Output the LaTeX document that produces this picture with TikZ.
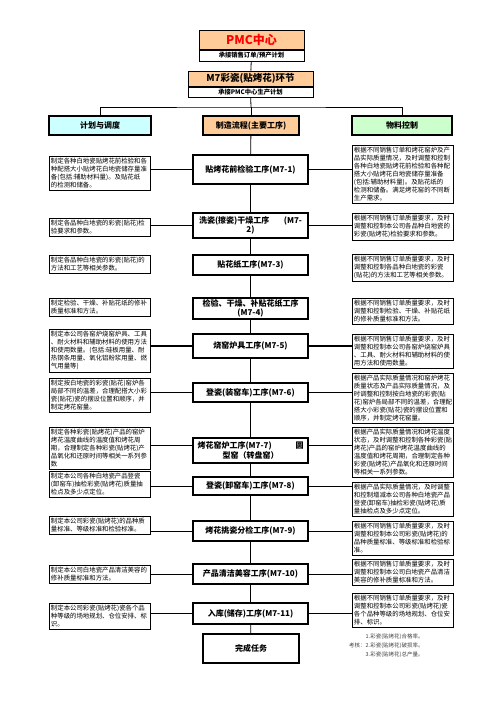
\documentclass[tikz,border=0pt]{standalone}
\usepackage{fontspec}
\setmainfont{Noto Sans CJK SC}
\usetikzlibrary{positioning}
\definecolor{pmcorange}{HTML}{FFCC99}
\definecolor{plancyan}{HTML}{CCFFFF}
\definecolor{matgreen}{HTML}{CCFFCC}
\newcommand{\notefont}{\fontsize{6.4}{8}\selectfont}
\newcommand{\procfont}{\fontsize{8}{9.5}\selectfont\bfseries}

\begin{document}
\begin{tikzpicture}[x=1pt, y=-1pt,
  notebox/.style={draw, line width=0.9pt, anchor=north west, text width=98pt,
    inner xsep=1.5pt, inner ysep=2pt, align=left, font=\notefont},
  procbox/.style={draw, line width=1.1pt, minimum width=115pt, inner ysep=1pt,
    align=center, font=\procfont},
  headbox/.style={draw, line width=1.4pt, minimum height=19pt, font=\procfont},
  topbox/.style={draw, line width=1pt, inner sep=1pt, fill=pmcorange},
  subbox/.style={draw, line width=1pt, inner sep=0.5pt, font=\fontsize{6.3}{7}\selectfont\bfseries},
  link/.style={line width=0.8pt},
  biglink/.style={line width=1.6pt}]
\useasboundingbox (0,0) rectangle (496,702);

% top of the chart
\node(pmc)	[topbox, minimum width=105pt, minimum height=19pt,
  font=\fontsize{12}{13}\selectfont\bfseries, text=red] at (251.5,39.5) {PMC中心};
\node(pmcsub)	[subbox, minimum width=105pt, minimum height=11pt, below=0pt of pmc]
{承接销售订单/预产计划};
\node(m7)	[topbox, minimum width=125pt, minimum height=15pt,
  font=\fontsize{9.5}{10}\selectfont\bfseries] at (250.5,78.5) {M7彩瓷(贴烤花)环节};
\node(m7sub)	[subbox, minimum width=125pt, minimum height=10pt, below=0pt of m7]
{承接PMC中心生产计划};
\coordinate(bus) at (251,107);

% column heads
\node(h1)	[headbox, minimum width=102pt, fill=plancyan] at (100,125.5) {计划与调度};
\node(h2)	[headbox, minimum width=96pt, fill=pmcorange] at (251,125.5) {制造流程(主要工序)};
\node(h3)	[headbox, minimum width=100pt, fill=matgreen] at (402,125.5) {物料控制};

% process steps
\node(s1)	[procbox, minimum height=29pt] at (250.5,169.5) {贴烤花前检验工序(M7-1)};
\node(s2)	[procbox, minimum height=25pt] at (250.5,225.5)
{\makebox[103pt][s]{洗瓷(擦瓷)干燥工序\hfill(M7-}\\2)};
\node(s3)	[procbox, minimum height=20pt] at (250.5,265) {贴花纸工序(M7-3)};
\node(s4)	[procbox, minimum height=21pt] at (250.5,308.5) {检验、干燥、补贴花纸工序\\(M7-4)};
\node(s5)	[procbox, minimum height=24pt] at (250.5,346) {烧窑炉具工序(M7-5)};
\node(s6)	[procbox, minimum height=19pt] at (250.5,392.5) {登瓷(装窑车)工序(M7-6)};
\node(s7)	[procbox, minimum height=25pt] at (250.5,450.5)
{\makebox[106pt][s]{烤花窑炉工序(M7-7)\hfill 圆}\\型窑（转盘窑）};
\node(s8)	[procbox, minimum height=18pt] at (250.5,486) {登瓷(卸窑车)工序(M7-8)};
\node(s9)	[procbox, minimum height=20pt] at (250.5,531) {烤花挑瓷分检工序(M7-9)};
\node(s10)	[procbox, minimum height=20pt] at (250.5,574) {产品清洁美容工序(M7-10)};
\node(s11)	[procbox, minimum height=21pt] at (250.5,613.5) {入库(储存)工序(M7-11)};
\node(done)	[procbox, minimum width=96pt, minimum height=29pt] at (251,648.5) {完成任务};

% planning notes
\node(l1)	[notebox] at (49,156) {制定各种白地瓷贴烤花前检验和各\\种配搭大小贴烤花白地瓷储存量准\\备(包括:辅助材料量)。及贴花纸\\的检测和储备。};
\node(l2)	[notebox] at (49,218) {制定各品种白地瓷的彩瓷(贴花)检\\验要求和参数。};
\node(l3)	[notebox] at (49,255) {制定各品种白地瓷的彩瓷(贴花)的\\方法和工艺等相关参数。};
\node(l4)	[notebox] at (49,298) {制定检验、干燥、补贴花纸的修补\\质量标准和方法。};
\node(l5)	[notebox] at (49,329) {制定本公司各窑炉烧窑炉具、工具\\、耐火材料和辅助材料的使用方法\\和使用数量。(包括:硅板用量、耐\\热钢条用量、氧化铝粉浆用量、燃\\气用量等)};
\node(l6)	[notebox] at (49,378) {制定按白地瓷的彩瓷(贴花)窑炉各\\局部不同的温差，合理配搭大小彩\\瓷(贴花)瓷的摆设位置和顺序，并\\制定烤花窑量。};
\node(l7)	[notebox] at (49,427) {制定各种彩瓷(贴烤花)产品的窑炉\\烤花温度曲线的温度值和烤花周\\期，合理制定各种彩瓷(贴烤花)产\\品氧化和还原时间等相关一系列参\\数};
\node(l8)	[notebox] at (49,471) {制定本公司各种白地瓷产品登瓷\\(卸窑车)抽检彩瓷(贴烤花)质量抽\\检点及多少点定位。};
\node(l9)	[notebox] at (49,516) {制定本公司彩瓷(贴烤花)的品种质\\量标准、等级标准和检验标准。};
\node(l10)	[notebox] at (49,565) {制定本公司白地瓷产品清洁美容的\\修补质量标准和方法。};
\node(l11)	[notebox] at (49,603) {制定本公司彩瓷(贴烤花)瓷各个品\\种等级的场地规划、仓位安排、标\\识。};

% material notes
\node(r1)	[notebox] at (352,145) {根据不同销售订单和烤花窑炉及产\\品实际质量情况，及时调整和控制\\各种白地瓷贴烤花前检验和各种配\\搭大小贴烤花白地瓷储存量准备\\(包括:辅助材料量)。及贴花纸的\\检测和储备。满足烤花窑的不同断\\生产需求。};
\node(r2)	[notebox] at (352,213) {根据不同销售订单质量要求，及时\\调整和控制本公司各品种白地瓷的\\彩瓷(贴烤花)检验要求和参数。};
\node(r3)	[notebox] at (352,254) {根据不同销售订单质量要求，及时\\调整和控制各品种白地瓷的彩瓷\\(贴花)的方法和工艺等相关参数。};
\node(r4)	[notebox] at (352,298) {根据不同销售订单质量要求，及时\\调整和控制检验、干燥、补贴花纸\\的修补质量标准和方法。};
\node(r5)	[notebox] at (352,334) {根据不同销售订单质量要求，及时\\调整和控制本公司各窑炉烧窑炉具\\、工具、耐火材料和辅助材料的使\\用方法和使用数量。};
\node(r6)	[notebox] at (352,373) {根据产品实际质量情况和窑炉烤花\\质量状态及产品实际质量情况，及\\时调整和控制按白地瓷的彩瓷(贴\\花)窑炉各局部不同的温差，合理配\\搭大小彩瓷(贴花)瓷的摆设位置和\\顺序，并制定烤花窑量。};
\node(r7)	[notebox] at (352,427) {根据产品实际质量情况和烤花温度\\状态，及时调整和控制各种彩瓷(贴\\烤花)产品的窑炉烤花温度曲线的\\温度值和烤花周期，合理制定各种\\彩瓷(贴烤花)产品氧化和还原时间\\等相关一系列参数。};
\node(r8)	[notebox] at (352,482) {根据产品实际质量情况，及时调整\\和控制增减本公司各种白地瓷产品\\登瓷(卸窑车)抽检彩瓷(贴烤花)质\\量抽检点及多少点定位。};
\node(r9)	[notebox] at (352,521) {根据不同销售订单质量要求，及时\\调整和控制本公司彩瓷(贴烤花)的\\品种质量标准、等级标准和检验标\\准。};
\node(r10)	[notebox] at (352,559) {根据不同销售订单质量要求，及时\\调整和控制本公司白地瓷产品清洁\\美容的修补质量标准和方法。};
\node(r11)	[notebox] at (352,593) {根据不同销售订单质量要求，及时\\调整和控制本公司彩瓷(贴烤花)瓷\\各个品种等级的场地规划、仓位安\\排、标识。};

% assessment
\node(kpi)	[anchor=west, inner sep=0pt, text=black!75,
  font=\fontsize{5.5}{9}\selectfont] at (349,646)
{\begin{tabular}{@{}r@{}l@{}}
 & 1.彩瓷(贴烤花)合格率。\\
考核： & 2.彩瓷(贴烤花)破损率。\\
 & 3.彩瓷(贴烤花)总产量。
\end{tabular}};

% main spine
\draw[link](pmcsub) -- (m7);
\draw[link](m7sub) -- (bus);
\draw[link](h1.north) |- (bus) -| (h3.north);
\draw[link](bus) -- (h2);
\draw[link](h2) -- (s1);
\foreach \a/\b in {s1/s2,s2/s3,s3/s4,s4/s5,s5/s6,s6/s7,s7/s8,s8/s9,s9/s10,s10/s11,s11/done}
  \draw[link](\a) -- (\b);

% side links
\foreach \n in {1,2,8,9,10}{
  \draw[link](l\n.east |- s\n.west) -- (s\n.west);
  \draw[link](s\n.east) -- (r\n.west |- s\n.east);
}
\foreach \n in {5,6,11}{
  \draw[biglink](l\n.east |- s\n.west) -- (s\n.west);
  \draw[biglink](s\n.east) -- (r\n.west |- s\n.east);
}
\draw[link](l7.east |- 0,445) -- ([yshift=5.5pt]s7.west);
\draw[link]([yshift=5.5pt]s7.east) -- (r7.west |- 0,445);
\end{tikzpicture}
\end{document}
